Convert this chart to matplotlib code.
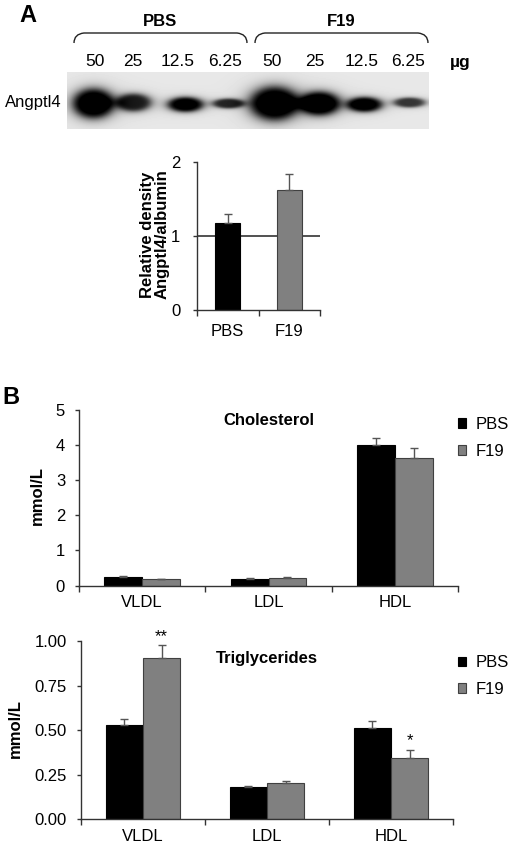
import numpy as np
import matplotlib
matplotlib.use("Agg")
from matplotlib import pyplot as plt
from matplotlib.path import Path
from matplotlib.patches import PathPatch

plt.rcParams["font.family"] = ["Liberation Sans", "DejaVu Sans"]
plt.rcParams["font.size"] = 12

W, H = 513, 847

# ---- panel A data ----
lane_groups = ["PBS", "F19"]
lane_doses = ["50", "25", "12.5", "6.25", "50", "25", "12.5", "6.25"]
# blot bands (pixel units within blot): centre x, centre y, half width, half height, darkness
band_x = [26, 66, 118, 161, 207, 252, 297, 342]
band_y = [31, 30, 32, 31, 31, 31, 32, 30]
band_w = [21, 18, 18, 16, 25, 21, 18, 16]
band_h = [15, 9, 7.5, 5, 17, 12, 7.5, 5]
band_dark = [1.0, 0.8, 0.95, 0.75, 1.0, 1.0, 0.95, 0.7]

dens_groups = ["PBS", "F19"]
dens_mean = [1.18, 1.62]
dens_err = [0.12, 0.22]

# ---- panel B data ----
fractions = ["VLDL", "LDL", "HDL"]
chol_pbs = [0.25, 0.18, 4.0]
chol_pbs_err = [0.02, 0.02, 0.20]
chol_f19 = [0.18, 0.21, 3.63]
chol_f19_err = [0.0, 0.02, 0.27]

tg_pbs = [0.526, 0.177, 0.509]
tg_pbs_err = [0.034, 0.011, 0.041]
tg_f19 = [0.905, 0.20, 0.345]
tg_f19_err = [0.071, 0.011, 0.045]
tg_stars = ["**", "", "*"]

BLACK = "#000000"
GREY = "#808080"
SPINE = "#333333"


def fig_rect(x0, y0, x1, y1):
    # pixel box (top-left origin) -> figure fraction rect
    return [x0 / W, 1 - y1 / H, (x1 - x0) / W, (y1 - y0) / H]


def style_axes(ax):
    for s in ["top", "right"]:
        ax.spines[s].set_visible(False)
    for s in ["left", "bottom"]:
        ax.spines[s].set_color(SPINE)
        ax.spines[s].set_linewidth(1.0)
    ax.tick_params(axis="y", length=3, width=1, color=SPINE, pad=7)
    ax.tick_params(axis="x", which="major", length=0, pad=7)
    ax.tick_params(axis="x", which="minor", length=4, width=1, color=SPINE)


fig = plt.figure(figsize=(W / 100, H / 100), dpi=100)

# overlay for annotations in pixel coords
ov = fig.add_axes([0, 0, 1, 1])
ov.set_xlim(0, W)
ov.set_ylim(H, 0)
ov.axis("off")
ov.patch.set_alpha(0)

ov.text(28, 16, "A", fontsize=17, fontweight="bold", ha="center", va="center")
ov.text(11, 398, "B", fontsize=17, fontweight="bold", ha="center", va="center")

# braces + group labels
for (x0, x1), name in zip([(74, 247), (255, 428)], lane_groups):
    verts = [(x0, 43), (x0, 34), (x0 + 10, 33), (x1 - 10, 33), (x1, 34), (x1, 43)]
    codes = [Path.MOVETO, Path.CURVE3, Path.CURVE3, Path.LINETO, Path.CURVE3, Path.CURVE3]
    ov.add_patch(PathPatch(Path(verts, codes), fill=False, lw=1.0, ec="#222222"))
    ov.text((x0 + x1) / 2, 22, name, fontweight="bold", ha="center", va="center")

lane_cx = [95, 133, 178, 225, 272, 315, 362, 408]
for cx, lab in zip(lane_cx, lane_doses):
    ov.text(cx, 62, lab, ha="center", va="center", fontsize=12.5)
ov.text(460, 62, "µg", fontweight="bold", ha="center", va="center", fontsize=12.5)
ov.text(5, 103, "Angptl4", ha="left", va="center")

# blot image
bw, bh = 362, 57
yy, xx = np.mgrid[0:bh, 0:bw]
dens = np.zeros((bh, bw))
for cx, cy, hw, hh, dk in zip(band_x, band_y, band_w, band_h, band_dark):
    d = np.sqrt(((xx - cx) / hw) ** 2 + ((yy - cy) / hh) ** 2)
    dens += dk * 1.1 / (1 + d ** 6)
img = 0.91 * (1 - np.clip(dens, 0, 1))
axb = fig.add_axes(fig_rect(67, 72, 429, 129))
axb.imshow(img, cmap="gray", vmin=0, vmax=1, aspect="auto", interpolation="bilinear")
axb.axis("off")

# density bar chart
axd = fig.add_axes(fig_rect(197, 162, 320, 310))
xd = np.arange(len(dens_groups))
axd.axhline(1, color=SPINE, lw=1.2, zorder=1)
axd.bar(xd, dens_mean, width=0.4, color=[BLACK, GREY], edgecolor=[BLACK, "#404040"],
        lw=0.8, zorder=2,
        yerr=[np.zeros(len(dens_err)), dens_err], ecolor="#555555",
        error_kw=dict(elinewidth=1, capsize=3, capthick=1))
axd.set_xlim(-0.5, len(dens_groups) - 0.5)
axd.set_ylim(0, 2)
axd.set_yticks([0, 1, 2])
axd.set_xticks(xd, dens_groups)
axd.set_xticks(np.arange(len(dens_groups) + 1) - 0.5, minor=True)
style_axes(axd)
axd.tick_params(axis="x", which="major", pad=10)
axd.tick_params(axis="y", pad=9)
axd.set_ylabel("Relative density\nAngptl4/albumin", fontweight="bold", linespacing=1.0)
axd.yaxis.set_label_coords(-0.22, 0.51)


def lipid_panel(rect, pbs, pbs_err, f19, f19_err, ylim, yticks, fmt, title,
                title_y, label_x, leg_y, stars=None):
    ax = fig.add_axes(rect)
    x = np.arange(len(fractions))
    w = 0.3
    ax.bar(x - w / 2, pbs, w, color=BLACK, edgecolor=BLACK, lw=0.8, label="PBS",
           yerr=[np.zeros(len(pbs_err)), pbs_err], ecolor="#555555",
           error_kw=dict(elinewidth=1, capsize=3, capthick=1))
    ax.bar(x + w / 2, f19, w, color=GREY, edgecolor="#404040", lw=0.8, label="F19",
           yerr=[np.zeros(len(f19_err)), f19_err], ecolor="#555555",
           error_kw=dict(elinewidth=1, capsize=3, capthick=1))
    if stars:
        for xi, v, e, s in zip(x, f19, f19_err, stars):
            if s:
                ax.annotate(s, (xi + w / 2, v + e), xytext=(0, 1), textcoords="offset points",
                            ha="center", va="bottom", fontsize=12)
    ax.set_xlim(-0.5, len(fractions) - 0.5)
    ax.set_ylim(*ylim)
    ax.set_yticks(yticks, [fmt.format(t) for t in yticks])
    ax.set_xticks(x, fractions)
    ax.set_xticks(np.arange(len(fractions) + 1) - 0.5, minor=True)
    style_axes(ax)
    ax.set_ylabel("mmol/L", fontweight="bold")
    ax.yaxis.set_label_coords(label_x, 0.51)
    ax.text(0.5, title_y, title, transform=ax.transAxes, fontweight="bold",
            ha="center", va="center")
    ax.legend(loc="center left", bbox_to_anchor=(458 / W, leg_y), bbox_transform=fig.transFigure,
              frameon=False, handlelength=0.5, handleheight=0.5, handletextpad=0.55,
              labelspacing=0.7, borderpad=0, borderaxespad=0, fontsize=12)
    return ax


lipid_panel(fig_rect(79, 409.5, 458, 585.5), chol_pbs, chol_pbs_err, chol_f19, chol_f19_err,
            (0, 5), [0, 1, 2, 3, 4, 5], "{:g}", "Cholesterol", (585.5 - 420) / 176,
            -0.09, 1 - 438 / H)
lipid_panel(fig_rect(81, 641, 453, 819), tg_pbs, tg_pbs_err, tg_f19, tg_f19_err,
            (0, 1), [0, 0.25, 0.5, 0.75, 1.0], "{:.2f}", "Triglycerides", (819 - 658) / 178,
            -0.156, 1 - 676 / H, stars=tg_stars)

fig.savefig("out.png", dpi=100)
